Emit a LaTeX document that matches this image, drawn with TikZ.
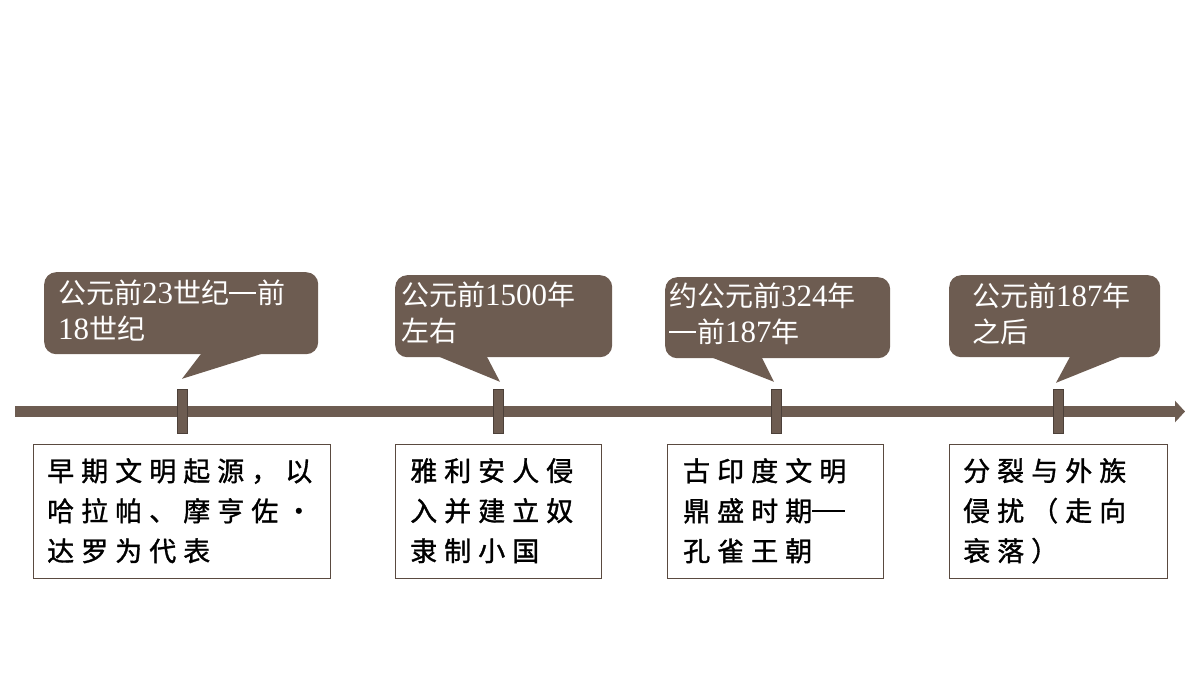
\documentclass[tikz,border=0pt]{standalone}
\usepackage{fontspec}
\setmainfont{Liberation Serif}
\newfontfamily\cjk{Noto Sans CJK SC}
\newfontfamily\cjkls[LetterSpace=26,FakeBold=1.2]{Noto Sans CJK SC}
\newfontfamily\latf{Liberation Serif}
\newcommand\dg[1]{{\latf\fontsize{31}{36}\selectfont #1}}
\newcommand\cdash{\makebox[1em][l]{\rule[0.34em]{0.96em}{0.07em}}}
\newcommand\bdash{\makebox[1.2em][l]{\rule[0.34em]{1.2em}{0.07em}}}
\usetikzlibrary{arrows.meta,calc}
\definecolor{callfill}{RGB}{109,92,81}
\definecolor{boxline}{RGB}{90,74,64}
\tikzset{
  calloutbox/.style={fill=callfill, rounded corners=12pt, inner sep=0pt, anchor=north west},
  tickmark/.style={fill=callfill, draw=callfill!70!black, line width=0.4pt, minimum width=10pt, minimum height=44pt, inner sep=0pt},
  eventbox/.style={draw=boxline, line width=0.8pt, fill=white, inner sep=0pt, anchor=north west},
  calltext/.style={anchor=north west, inner sep=0pt, align=left, text=white, font=\cjk\fontsize{28}{36}\selectfont},
  boxtext/.style={anchor=north west, inner sep=0pt, align=left, text=black, font=\cjkls\fontsize{27}{40}\selectfont},
  axisline/.style={draw=callfill, line width=11pt, -{Triangle[length=10pt,width=21pt]}}
}
\begin{document}
\begin{tikzpicture}[x=1pt,y=-1pt]
\useasboundingbox (0,0) rectangle (1200,675);
% axis
\coordinate (axs) at (15,411.5);
\coordinate (axe) at (1185,411.5);
\draw[axisline] (axs) -- (axe);
% ticks
\node[tickmark] (t1) at (182,411) {};
\node[tickmark] (t2) at (498,411) {};
\node[tickmark] (t3) at (776,411) {};
\node[tickmark] (t4) at (1058,411) {};
% callouts
\node[calloutbox, minimum width=274pt, minimum height=82pt] (c1) at (44,272) {};
\node[calloutbox, minimum width=217pt, minimum height=82pt] (c2) at (395,275) {};
\node[calloutbox, minimum width=225pt, minimum height=81pt] (c3) at (665,277) {};
\node[calloutbox, minimum width=211pt, minimum height=82pt] (c4) at (949,275) {};
\coordinate (p1) at ($(t1.north)+(0,-10)$);
\coordinate (p2) at ($(t2.north)+(2,-7)$);
\coordinate (p3) at ($(t3.north)+(-2,-7)$);
\coordinate (p4) at ($(t4.north)+(-2,-6)$);
\fill[callfill] (204,350) -- (p1) -- (274,350) -- cycle;
\fill[callfill] (430,353) -- (p2) -- (485,353) -- cycle;
\fill[callfill] (703,354) -- (p3) -- (760,354) -- cycle;
\fill[callfill] (1072,353) -- (p4) -- (1130,353) -- cycle;
\node[calltext] (ct1) at (58,280) {公元前\dg{23}世纪\cdash 前\\\dg{18}世纪};
\node[calltext] (ct2) at (401,282) {公元前\dg{1500}年\\左右};
\node[calltext] (ct3) at (669,283) {约公元前\dg{324}年\\\cdash 前\dg{187}年};
\node[calltext] (ct4) at (972,283) {公元前\dg{187}年\\之后};
% event boxes
\node[eventbox, minimum width=297pt, minimum height=134pt] (b1) at (33,444) {};
\node[eventbox, minimum width=206pt, minimum height=134pt] (b2) at (395,444) {};
\node[eventbox, minimum width=216pt, minimum height=134pt] (b3) at (667,444) {};
\node[eventbox, minimum width=218pt, minimum height=134pt] (b4) at (949,444) {};
\node[boxtext] (bt1) at (47,458) {早期文明起源，以\\哈拉帕、摩亨佐·\\达罗为代表};
\node[boxtext] (bt2) at (410,458) {雅利安人侵\\入并建立奴\\隶制小国};
\node[boxtext] (bt3) at (683,458) {古印度文明\\鼎盛时期\bdash\\孔雀王朝};
\node[boxtext] (bt4) at (963,458) {分裂与外族\\侵扰（走向\\衰落）};
\end{tikzpicture}
\end{document}
